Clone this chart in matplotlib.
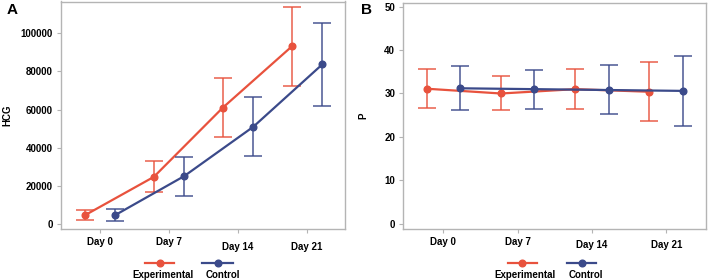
import numpy as np
import matplotlib
matplotlib.use("Agg")
import matplotlib.pyplot as plt
from matplotlib.lines import Line2D

plt.rcParams['font.family'] = ['Liberation Sans', 'DejaVu Sans']
plt.rcParams['font.weight'] = 'bold'

days = ["Day 0", "Day 7", "Day 14", "Day 21"]

# HCG (panel A)
hcg_exp = [4400, 24600, 61000, 93200]
hcg_exp_hi = [7000, 32700, 76800, 114000]
hcg_exp_lo = [1800, 16500, 45500, 72400]
hcg_ctl = [4500, 25000, 50900, 83700]
hcg_ctl_hi = [7900, 35100, 66400, 105400]
hcg_ctl_lo = [1300, 14400, 35500, 62100]

# P (panel B)
p_exp = [31.1, 30.0, 31.0, 30.4]
p_exp_hi = [35.6, 34.1, 35.6, 37.2]
p_exp_lo = [26.7, 26.1, 26.4, 23.7]
p_ctl = [31.2, 31.0, 30.8, 30.6]
p_ctl_hi = [36.3, 35.3, 36.5, 38.6]
p_ctl_lo = [26.2, 26.5, 25.2, 22.5]

red = "#e8523d"
blue = "#3b4a8a"
frame = "#b4b4b4"
W, H = 708, 280

fig = plt.figure(figsize=(W/100, H/100), dpi=100)


def px(x0, y0, x1, y1):
    return [x0/W, 1-y1/H, (x1-x0)/W, (y1-y0)/H]


def panel(rect, exp, elo, ehi, ctl, clo, chi, ylim, yticks, ylabel, xlim, off):
    ax = fig.add_axes(rect)
    x = np.arange(len(days))
    for vals, lo, hi, c, d in [(exp, elo, ehi, red, -off), (ctl, clo, chi, blue, off)]:
        vals = np.array(vals)
        err = [vals - np.array(lo), np.array(hi) - vals]
        ax.errorbar(x + d, vals, yerr=err, fmt='none', ecolor=c, elinewidth=1.2,
                    capsize=6.5, capthick=1.2, alpha=0.85)
        ax.plot(x + d, vals, color=c, lw=1.6, marker='o', ms=4.8)
    ax.set_xlim(*xlim)
    ax.set_ylim(*ylim)
    ax.set_xticks(x)
    ax.set_xticklabels(days)
    ax.set_yticks(yticks)
    ax.set_yticklabels([str(v) for v in yticks])
    ax.tick_params(axis='both', labelsize=7, colors=frame, labelcolor='black')
    ax.tick_params(axis='x', length=3, pad=3)
    ax.tick_params(axis='y', length=3, pad=2.8)
    for s in ax.spines.values():
        s.set_color(frame)
        s.set_linewidth(1)
    ax.set_ylabel(ylabel, fontsize=7, fontweight='bold')
    return ax


axA = panel(px(61, 1.5, 345, 229), hcg_exp, hcg_exp_lo, hcg_exp_hi,
            hcg_ctl, hcg_ctl_lo, hcg_ctl_hi, (-2800, 116800),
            [0, 20000, 40000, 60000, 80000, 100000], "HCG", (-0.565, 3.55), 0.22)
axA.yaxis.set_label_coords(-0.172, 0.5)
for t in axA.xaxis.get_major_ticks()[2:]:
    t.set_pad(6.5)

axB = panel(px(403.3, 3, 706, 229), p_exp, p_exp_lo, p_exp_hi,
            p_ctl, p_ctl_lo, p_ctl_hi, (-1.22, 50.85),
            [0, 10, 20, 30, 40, 50], "P", (-0.54, 3.536), 0.225)
axB.yaxis.set_label_coords(-0.115, 0.5)
for t in axB.xaxis.get_major_ticks()[2:]:
    t.set_pad(5)

fig.text(7/W, 1-10/H, "A", fontsize=11, fontweight='bold', ha='left', va='center')
fig.text(361/W, 1-10/H, "B", fontsize=11, fontweight='bold', ha='left', va='center')


def legend_item(x0, x1, xt, label, c):
    y = 1-263/H
    fig.add_artist(Line2D([x0/W, x1/W], [y, y], color=c, lw=1.6, transform=fig.transFigure))
    fig.add_artist(Line2D([(x0+x1)/2/W], [y], color=c, marker='o', ms=4.8, transform=fig.transFigure))
    fig.text(xt/W, 1-275/H, label, fontsize=7, fontweight='bold', ha='center', va='center')


legend_item(145, 174, 162.7, "Experimental", red)
legend_item(202, 233, 223, "Control", blue)
legend_item(508, 536.7, 525, "Experimental", red)
legend_item(567.3, 595.7, 585.7, "Control", blue)

fig.savefig("out.png", dpi=100)
